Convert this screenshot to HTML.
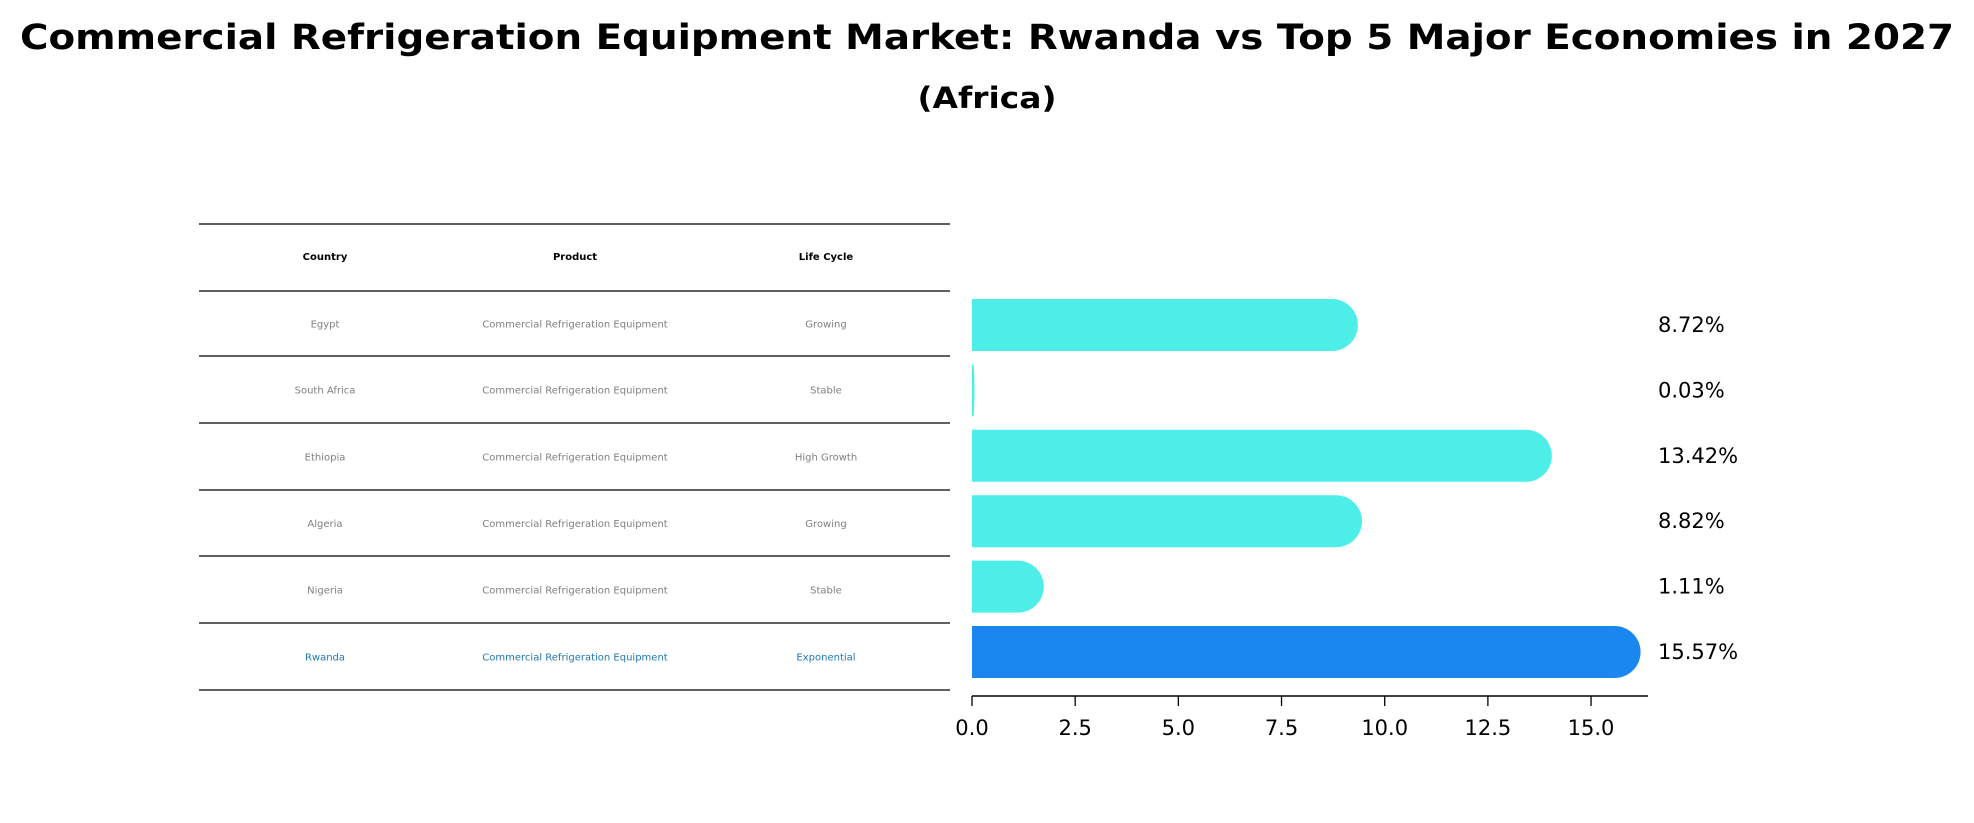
<!DOCTYPE html>
<html><head><meta charset="utf-8"><style>
html,body{margin:0;padding:0;background:#fff;}
svg{display:block;font-family:"DejaVu Sans","Liberation Sans",sans-serif;}
</style></head><body>
<svg id="chart" width="1974" height="823" viewBox="0 0 1974 823">
<rect width="1974" height="823" fill="#fff"/>
<text x="987" y="49" text-anchor="middle" font-size="35" font-weight="bold" textLength="1934" lengthAdjust="spacingAndGlyphs">Commercial Refrigeration Equipment Market: Rwanda vs Top 5 Major Economies in 2027</text>
<text x="987" y="108" text-anchor="middle" font-size="29" font-weight="bold" textLength="139" lengthAdjust="spacingAndGlyphs">(Africa)</text>
<g id="table"></g>
<g id="bars"></g>
<g id="axis"></g>
</svg>
<script>
const countries = ["Egypt","South Africa","Ethiopia","Algeria","Nigeria","Rwanda"];
const products = ["Commercial Refrigeration Equipment","Commercial Refrigeration Equipment","Commercial Refrigeration Equipment","Commercial Refrigeration Equipment","Commercial Refrigeration Equipment","Commercial Refrigeration Equipment"];
const lifeCycles = ["Growing","Stable","High Growth","Growing","Stable","Exponential"];
const values = [8.72, 0.03, 13.42, 8.82, 1.11, 15.57];
const valueLabels = ["8.72%","0.03%","13.42%","8.82%","1.11%","15.57%"];
const ticks = [0, 2.5, 5, 7.5, 10, 12.5, 15];
const tickLabels = ["0.0","2.5","5.0","7.5","10.0","12.5","15.0"];

const NS = "http://www.w3.org/2000/svg";
function mk(tag, attrs, parent, txt){const e=document.createElementNS(NS,tag);for(const k in attrs)e.setAttribute(k,attrs[k]);if(txt!==undefined)e.textContent=txt;parent.appendChild(e);return e;}
const x0 = 972, pxPerUnit = 41.27;
const xScale = v => x0 + v * pxPerUnit;
const rowY = i => 325 + i * 65.4;
const barH = 52;

// table
const tbl = document.getElementById('table');
const lineYs = [224,291,356,423,490,556,623,690];
lineYs.forEach((y,i)=>{
  const l = mk('line',{x1:199,x2:950,y1:y,y2:y,stroke:'#000','stroke-width':1.2},tbl);
  
  
});
const colX = [325,575,826];
const headers = ["Country","Product","Life Cycle"];
headers.forEach((h,j)=>{
  const t = mk('text',{x:colX[j],y:260,'text-anchor':'middle','font-size':10,'font-weight':'bold',fill:'#000'},tbl,h);
  
  
});
countries.forEach((c,i)=>{
  const y = (lineYs[i+1]+lineYs[i+2])/2 + 4;
  const col = c==="Rwanda" ? '#1f77b4' : '#808080';
  [c, products[i], lifeCycles[i]].forEach((v,j)=>{
    const t = mk('text',{x:colX[j],y:y,'text-anchor':'middle','font-size':10,fill:col},tbl,v);
    
    
  });
});

// bars
const bars = document.getElementById('bars');
values.forEach((v,i)=>{
  const yc = rowY(i), top = yc - barH/2;
  const xe = xScale(v), w = xe - x0;
  const r = Math.min(barH/2, w);
  const color = countries[i]==="Rwanda" ? '#1a86f0' : '#4deee8';
  const d = `M${x0},${top} L${xe},${top} A${r},${barH/2} 0 0 1 ${xe},${top+barH} L${x0},${top+barH} Z`;
  const p = mk('path',{d:d,fill:color},bars);
  
  
  const t = mk('text',{x:1658,y:yc+7,'font-size':21,fill:'#000'},bars,valueLabels[i]);
  
  
});

// axis
const ax = document.getElementById('axis');
const sp = mk('line',{x1:x0,x2:1648,y1:696,y2:696,stroke:'#000','stroke-width':1.5},ax);


ticks.forEach((v,i)=>{
  const x = xScale(v);
  const tk = mk('line',{x1:x,x2:x,y1:696,y2:706,stroke:'#000','stroke-width':1.3},ax);
  
  
  const t = mk('text',{x:x,y:735,'text-anchor':'middle','font-size':21,fill:'#000'},ax,tickLabels[i]);
  
  
});
</script>
</body></html>
